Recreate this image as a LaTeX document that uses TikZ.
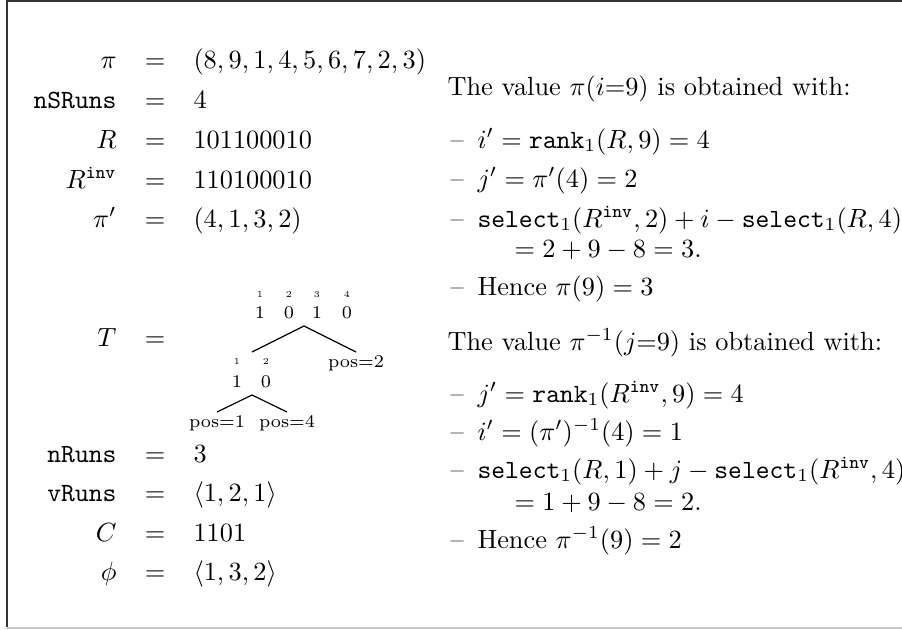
\documentclass[tikz,border=0pt]{standalone}
\begin{document}
\begin{tikzpicture}[x=0.38pt,y=-0.38pt,
  lbl/.style={anchor=base east, inner sep=0pt},
  eqs/.style={anchor=base, inner sep=0pt},
  val/.style={anchor=base west, inner sep=0pt},
  txt/.style={anchor=base west, inner sep=0pt},
  dsh/.style={anchor=base west, inner sep=0pt},
  bit/.style={anchor=base, inner sep=0pt, font=\fontsize{6.8}{8}\selectfont},
  idx/.style={anchor=base, inner sep=0pt, font=\fontsize{3.4}{4}\selectfont},
  treeedge/.style={line width=0.45pt}]
\useasboundingbox (0,0) rectangle (902,629);
% frame
\draw[line width=0.55pt, black!80] (7,627) -- (7,1) -- (902,1);
\draw[line width=0.45pt, black!22] (7,628) -- (902,628);

% left column
\node[lbl] (L1) at (117,68) {$\pi$};
\node[eqs] (E1) at (155,68) {$=$};
\node[val] (V1) at (193,68) {$(8,9,1,4,5,6,7,2,3)$};
\node[lbl] (L2) at (117,108) {$\mathtt{nSRuns}$};
\node[eqs] (E2) at (155,108) {$=$};
\node[val] (V2) at (193,108) {$4$};
\node[lbl] (L3) at (117,148) {$R$};
\node[eqs] (E3) at (155,148) {$=$};
\node[val] (V3) at (193,148) {$101100010$};
\node[lbl] (L4) at (117,188) {$R^{\mathtt{inv}}$};
\node[eqs] (E4) at (155,188) {$=$};
\node[val] (V4) at (193,188) {$110100010$};
\node[lbl] (L5) at (117,227) {$\pi'$};
\node[eqs] (E5) at (155,227) {$=$};
\node[val] (V5) at (193,227) {$(4,1,3,2)$};
\node[lbl] (L6) at (117,346) {$T$};
\node[eqs] (E6) at (155,346) {$=$};
\node[lbl] (L7) at (117,462) {$\mathtt{nRuns}$};
\node[eqs] (E7) at (155,462) {$=$};
\node[val] (V7) at (193,462) {$3$};
\node[lbl] (L8) at (117,501) {$\mathtt{vRuns}$};
\node[eqs] (E8) at (155,501) {$=$};
\node[val] (V8) at (193,501) {$\langle 1,2,1\rangle$};
\node[lbl] (L9) at (117,541) {$C$};
\node[eqs] (E9) at (155,541) {$=$};
\node[val] (V9) at (193,541) {$1101$};
\node[lbl] (L10) at (117,580) {$\phi$};
\node[eqs] (E10) at (155,580) {$=$};
\node[val] (V10) at (193,580) {$\langle 1,3,2\rangle$};

% tree
\node[idx] (ti1) at (260,297) {1};
\node[idx] (ti2) at (289,297) {2};
\node[idx] (ti3) at (317,297) {3};
\node[idx] (ti4) at (347,297) {4};
\node[bit] (t1) at (260,318) {1};
\node[bit] (t2) at (289,318) {0};
\node[bit] (t3) at (317,318) {1};
\node[bit] (t4) at (347,318) {0};
\node[idx] (mi1) at (237,364) {1};
\node[idx] (mi2) at (266,364) {2};
\node[bit] (m1) at (237,387) {1};
\node[bit] (m2) at (266,387) {0};
\node[bit] (p2) at (356,367) {pos=2};
\node[bit] (p1) at (217,427) {pos=1};
\node[bit] (p4) at (287,427) {pos=4};
\coordinate (a1) at (304,326);
\coordinate (l1) at (252,352);
\coordinate (r1) at (356,352);
\coordinate (a2) at (252,395);
\coordinate (l2) at (217,412);
\coordinate (r2) at (287,412);
\draw[treeedge] (l1) -- (a1) -- (r1);
\draw[treeedge] (l2) -- (a2) -- (r2);

% right column
\node[txt] (h1) at (447,95) {The value $\pi(i{=}9)$ is obtained with:};
\node[dsh] (d1) at (450,148) {--};
\node[txt] (c1) at (477,148) {$i' = \mathtt{rank}_1(R,9) = 4$};
\node[dsh] (d2) at (450,187) {--};
\node[txt] (c2) at (477,187) {$j' = \pi'(4) = 2$};
\node[dsh] (d3) at (450,227) {--};
\node[txt] (c3) at (477,227) {$\mathtt{select}_1(R^{\mathtt{inv}},2) + i - \mathtt{select}_1(R,4)$};
\node[txt] (c3b) at (514,257) {$= 2 + 9 - 8 = 3.$};
\node[dsh] (d4) at (450,295) {--};
\node[txt] (c4) at (477,295) {Hence $\pi(9) = 3$};

\node[txt] (h2) at (447,350) {The value $\pi^{-1}(j{=}9)$ is obtained with:};
\node[dsh] (d5) at (450,402) {--};
\node[txt] (c5) at (477,402) {$j' = \mathtt{rank}_1(R^{\mathtt{inv}},9) = 4$};
\node[dsh] (d6) at (450,440) {--};
\node[txt] (c6) at (477,440) {$i' = (\pi')^{-1}(4) = 1$};
\node[dsh] (d7) at (450,478) {--};
\node[txt] (c7) at (477,478) {$\mathtt{select}_1(R,1) + j - \mathtt{select}_1(R^{\mathtt{inv}},4)$};
\node[txt] (c7b) at (514,510) {$= 1 + 9 - 8 = 2.$};
\node[dsh] (d8) at (450,548) {--};
\node[txt] (c8) at (477,548) {Hence $\pi^{-1}(9) = 2$};
\end{tikzpicture}
\end{document}
